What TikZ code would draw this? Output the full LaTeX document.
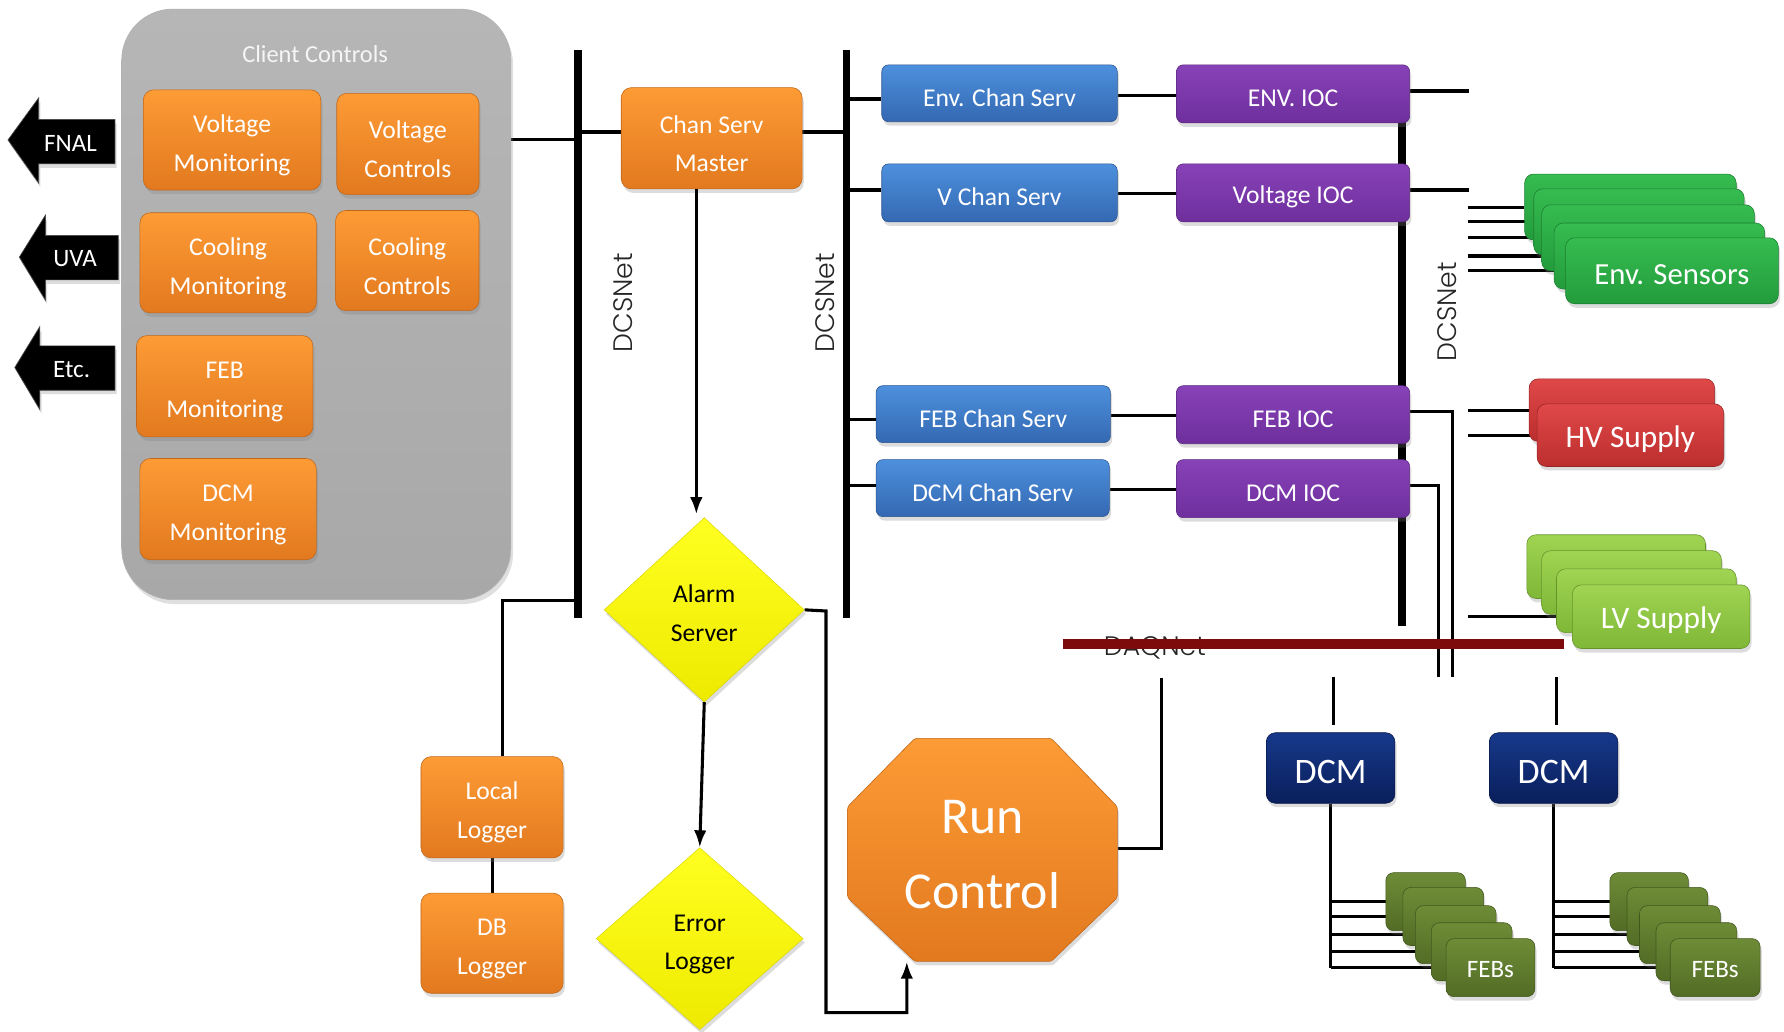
\documentclass[tikz,border=0pt]{standalone}
\usepackage{fontspec}
\setmainfont{Carlito}
\newfontfamily\gothic{Poppins Light}
\usetikzlibrary{shadows,arrows.meta,shapes.geometric,backgrounds}
\definecolor{orA}{HTML}{FD9B35}
\definecolor{orB}{HTML}{E2791F}
\definecolor{blA}{HTML}{4D90DD}
\definecolor{blB}{HTML}{3468B2}
\definecolor{puA}{HTML}{8742B7}
\definecolor{puB}{HTML}{6E2F9D}
\definecolor{gnA}{HTML}{36BC50}
\definecolor{gnB}{HTML}{239C3C}
\definecolor{rdA}{HTML}{E04848}
\definecolor{rdB}{HTML}{BC2E2E}
\definecolor{lgA}{HTML}{A0D452}
\definecolor{lgB}{HTML}{7FB737}
\definecolor{nvA}{HTML}{17388A}
\definecolor{nvB}{HTML}{0A1F5C}
\definecolor{olA}{HTML}{6E8C37}
\definecolor{olB}{HTML}{526C25}
\definecolor{ylA}{HTML}{FFFF20}
\definecolor{ylB}{HTML}{EEEA00}
\definecolor{grA}{HTML}{B6B6B6}
\definecolor{grB}{HTML}{A8A8A8}
\definecolor{daq}{HTML}{7E0B0B}
\newcommand\fsz[2]{\fontsize{#1}{#2}\selectfont}
% two-line text with a raised first line
\newcommand\twol[3][25pt]{\rule{0pt}{#1}#2\\#3}
\tikzset{
  tstrut/.style={execute at begin node={\rule{0pt}{#1}}},
  shad/.style={drop shadow={shadow xshift=1.5pt,shadow yshift=-3.5pt,opacity=0.28}},
  box/.style={rectangle, rounded corners=9pt, inner sep=0pt, align=center, text=white,
    font=\fsz{22.5}{34}, shad, line width=0.5pt},
  obox/.style={box, top color=orA, bottom color=orB, draw=orB!85!black},
  bbox/.style={box, rounded corners=6pt, top color=blA, bottom color=blB, draw=blB!80!black,
    minimum height=50pt, tstrut=23pt},
  pbox/.style={box, rounded corners=6pt, top color=puA, bottom color=puB, draw=puB!80!black,
    minimum width=205pt, minimum height=51pt, tstrut=22pt},
  gbox/.style={box, rounded corners=8pt, top color=gnA, bottom color=gnB, draw=gnB!80!black,
    minimum height=58pt, font=\fsz{27}{30}, tstrut=23.5pt},
  rbox/.style={box, rounded corners=8pt, top color=rdA, bottom color=rdB, draw=rdB!80!black,
    minimum height=55pt, minimum width=164pt, font=\fsz{27.5}{30}, tstrut=25.5pt},
  lbox/.style={box, rounded corners=8pt, top color=lgA, bottom color=lgB, draw=lgB!80!black,
    minimum height=56pt, minimum width=157pt, font=\fsz{27.5}{30}, tstrut=25.5pt},
  nbox/.style={box, rounded corners=8pt, top color=nvA, bottom color=nvB, draw=nvB!80!black,
    minimum width=113pt, minimum height=62pt, font=\fsz{31.5}{34}, tstrut=28pt},
  fbox/.style={box, rounded corners=7pt, top color=olA, bottom color=olB, draw=olB!80!black,
    minimum width=71pt, minimum height=51pt, font=\fsz{22}{24}, tstrut=18pt},
  ydia/.style={diamond, inner sep=0pt, align=center, top color=ylA, bottom color=ylB,
    draw=ylB!90!black, line width=0.4pt, font=\fsz{22.5}{34}, text=black, shad},
  bigarrow/.style={fill=black, draw=black!70, line width=0.6pt, shad},
  atext/.style={text=white, font=\fsz{22}{24}},
  conn/.style={line width=2.7pt},
  bus/.style={line width=7pt},
  tip/.style={-{Latex[length=15pt,width=11pt]}},
  netlbl/.style={font=\gothic\fsz{23.5}{24}, text=black!85},
}
\begin{document}
\begin{tikzpicture}[x=1pt,y=-1pt]
\useasboundingbox (0,0) rectangle (1568,907);

% ---------- client controls ----------
\node[rectangle, rounded corners=45pt, top color=grA, bottom color=grB, draw=black!30,
      line width=0.6pt, minimum width=342pt, minimum height=519pt, inner sep=0pt,
      drop shadow={shadow xshift=2pt,shadow yshift=-4pt,opacity=0.25}]
      (client) at (278,267.5) {};
\node[text=white!96!black, font=\fsz{21.5}{24}] (cctitle) at (277,47.5) {Client Controls};

\node[obox, minimum width=156pt, minimum height=88pt] (vm) at (204,123) {\twol{Voltage}{Monitoring}};
\node[obox, minimum width=125pt, minimum height=89pt] (vc) at (358.5,126.5) {\twol{Voltage}{Controls}};
\node[obox, minimum width=155pt, minimum height=88pt] (cm) at (200.5,231) {\twol{Cooling}{Monitoring}};
\node[obox, minimum width=126pt, minimum height=88pt] (cc) at (358,229) {\twol{Cooling}{Controls}};
\node[obox, minimum width=155pt, minimum height=89pt] (fm) at (197.5,339.5) {\twol{FEB}{Monitoring}};
\node[obox, minimum width=155pt, minimum height=89pt] (dm) at (200.5,447.5) {\twol{DCM}{Monitoring}};

% ---------- outgoing arrows ----------
\path[bigarrow] (101,105) -- (34,105) -- (34,86) -- (7,123) -- (34,161) -- (34,144) -- (101,144) -- cycle;
\node[atext] (fnal) at (62,126) {FNAL};
\path[bigarrow] (104,207) -- (40,207) -- (40,189) -- (17,226) -- (40,264) -- (40,246) -- (104,246) -- cycle;
\node[atext] (uva) at (66,227) {UVA};
\path[bigarrow] (101,304) -- (35,304) -- (35,287) -- (13,323) -- (35,360) -- (35,343) -- (101,343) -- cycle;
\node[atext] (etc) at (63,325) {Etc.};

% ---------- buses ----------
\coordinate (b1t) at (508,44);  \coordinate (b1b) at (508,543);
\coordinate (b2t) at (744,44);  \coordinate (b2b) at (744,543);
\coordinate (b3t) at (1232,107); \coordinate (b3b) at (1232,550);
\draw[bus] (b1t) -- (b1b);
\draw[bus] (b2t) -- (b2b);
\node[netlbl, rotate=90] (lbl1) at (548,266) {DCSNet};
\node[netlbl, rotate=90] (lbl2) at (725,266) {DCSNet};
\node[netlbl, rotate=90] (lbl3) at (1272,274) {DCSNet};

% ---------- chan serv master ----------
\node[obox, minimum width=159pt, minimum height=89pt] (csm) at (625.5,121.5) {\twol{Chan Serv}{Master}};

% ---------- chan servs ----------
\node[bbox, minimum width=207pt] (ecs) at (878.5,82) {Env. Chan Serv};
\node[bbox, minimum width=207pt, minimum height=51pt] (vcs) at (878.5,169.5) {V Chan Serv};
\node[bbox, minimum width=206pt] (fcs) at (873,364) {FEB Chan Serv};
\node[bbox, minimum width=205pt] (dcs) at (872.5,429) {DCM Chan Serv};

% ---------- IOCs ----------
\begin{scope}[on background layer]
\draw[bus] (b3t) -- (b3b);
\end{scope}
\node[pbox] (eioc) at (1136.5,82.5) {ENV. IOC};
\node[pbox] (vioc) at (1136.5,169.5) {Voltage IOC};
\node[pbox] (fioc) at (1136.5,364.5) {FEB IOC};
\node[pbox] (dioc) at (1136.5,429.5) {DCM IOC};

% ---------- env sensors ----------
\node[gbox, minimum width=186pt] (es1) at (1433,182) {};
\node[gbox, minimum width=185pt] (es2) at (1440.5,195) {};
\node[gbox, minimum width=187pt] (es3) at (1448.5,209) {};
\node[gbox, minimum width=185pt] (es4) at (1458.5,225) {};
\node[gbox, minimum width=187pt] (es5) at (1469.5,238) {Env. Sensors};

% ---------- HV / LV ----------
\node[rbox, minimum width=163pt] (hv1) at (1425.5,360.5) {};
\node[rbox] (hv2) at (1433,382.5) {HV Supply};
\node[lbox] (lv1) at (1420.5,498) {};
\node[lbox, minimum width=158pt] (lv2) at (1434,512) {};
\node[lbox, minimum width=158pt] (lv3) at (1447,528) {};
\node[lbox, minimum width=156pt] (lv4) at (1460,542) {LV Supply};

% ---------- alarm / error / loggers ----------
\node[ydia, minimum width=176pt, minimum height=162pt] (as) at (619,536) {\twol[22pt]{Alarm}{Server}};
\node[ydia, minimum width=182pt, minimum height=160pt] (el) at (615,825) {\twol[24.5pt]{Error}{Logger}};
\node[obox, minimum width=125pt, minimum height=89pt] (ll) at (432.5,709.5) {\twol{Local}{Logger}};
\node[obox, minimum width=125pt, minimum height=88pt] (dbl) at (432.5,829) {\twol{DB}{Logger}};

% ---------- run control ----------
\path[top color=orA, bottom color=orB, draw=orB!85!black, line width=0.5pt, rounded corners=2pt,
      drop shadow={shadow xshift=1.5pt,shadow yshift=-3.5pt,opacity=0.28}]
  (804,649) -- (924,649) -- (982,709) -- (982,789) -- (924,845) -- (804,845) -- (745,789) -- (745,709) -- cycle;
\node[rectangle, inner sep=0pt, minimum width=237pt, minimum height=196pt, align=center,
      text=white, font=\fsz{45.5}{66}] (rc) at (863.5,747) {\twol[37pt]{Run}{Control}};

% ---------- DCMs and FEBs ----------
\node[nbox] (dcm1) at (1169.5,675) {DCM};
\node[nbox] (dcm2) at (1365.5,675) {DCM};

\node[fbox, minimum width=70pt] (fa1) at (1253,792.5) {};
\node[fbox] (fa2) at (1268.5,805.5) {};
\node[fbox] (fa3) at (1279.5,821.5) {};
\node[fbox] (fa4) at (1293.5,836.5) {};
\node[fbox, minimum width=78pt] (fa5) at (1310,850.5) {FEBs};

\node[fbox, minimum width=69pt] (fb1) at (1449.5,792.5) {};
\node[fbox] (fb2) at (1465.5,805.5) {};
\node[fbox] (fb3) at (1476.5,821.5) {};
\node[fbox] (fb4) at (1491,836.5) {};
\node[fbox, minimum width=79pt] (fb5) at (1507.5,850.5) {FEBs};

% ---------- free-end coordinates ----------
\coordinate (eEnd) at (1291,80);
\coordinate (vEnd) at (1291,167);
\coordinate (sx) at (1290,0);
\coordinate (daqL) at (934,566);
\coordinate (daqR) at (1375,566);
\coordinate (daqRC) at (1021,596);
\coordinate (daqD1) at (1172,595);
\coordinate (daqD2) at (1368,595);
\coordinate (fiocD) at (1277,595);
\coordinate (diocD) at (1264,595);

% ---------- connectors (behind the boxes) ----------
\begin{scope}[on background layer]
  \draw[conn] (client.east |- 0,123) -- (b1t |- 0,123);
  \draw[conn] (b1t |- 0,116) -- (csm.west |- 0,116);
  \draw[conn] (csm.east |- 0,116) -- (b2t |- 0,116);
  \draw[conn] (b2t |- 0,87) -- (ecs.west |- 0,87);
  \draw[conn] (b2t |- 0,167) -- (vcs.west |- 0,167);
  \draw[conn] (b2t |- 0,369) -- (fcs.west |- 0,369);
  \draw[conn] (b2t |- 0,427) -- (dcs.west |- 0,427);
  \draw[conn] (ecs.east |- 0,84) -- (eioc.west |- 0,84);
  \draw[conn] (vcs.east |- 0,170) -- (vioc.west |- 0,170);
  \draw[conn] (fcs.east |- 0,365) -- (fioc.west |- 0,365);
  \draw[conn] (dcs.east |- 0,430) -- (dioc.west |- 0,430);
  \draw[conn] (eioc.east |- eEnd) -- (eEnd);
  \draw[conn] (vioc.east |- vEnd) -- (vEnd);
  \foreach \n in {es1,es2,es3,es4,es5} \draw[conn] (sx |- \n.west) -- (\n.west);
  \draw[conn] (sx |- hv1.west) -- (hv1.west);
  \draw[conn] (sx |- hv2.west) -- (hv2.west);
  \draw[conn] (sx |- lv4.west) -- (lv4.west);
  \draw[conn] (fioc.east |- 0,362) -- (fiocD |- 0,362) -- (fiocD);
  \draw[conn] (dioc.east |- 0,427) -- (diocD |- 0,427) -- (diocD);
  \node[netlbl] (daqlbl) at (1015,569) {DAQNet};
  \draw[line width=8pt, daq] (daqL) -- (daqR);
  \draw[conn] (daqD1) -- (1172,637);
  \draw[conn] (daqD2) -- (1368,637);
  \draw[conn] (rc.east |- 0,746) -- (daqRC |- 0,746) -- (daqRC);
  \draw[conn] (dcm1.south) -- (dcm1.south |- fa5.west);
  \foreach \n in {fa1,fa2,fa3,fa4,fa5} \draw[conn] (dcm1.south |- \n.west) -- (\n.west);
  \draw[conn] (dcm2.south) -- (dcm2.south |- fb5.west);
  \foreach \n in {fb1,fb2,fb3,fb4,fb5} \draw[conn] (dcm2.south |- \n.west) -- (\n.west);
  \draw[conn] (b1b |- 0,528) -- (442,528) -- (442,0 |- ll.north);
  \draw[conn] (ll) -- (dbl);
\end{scope}

% ---------- arrows ----------
\draw[conn, tip] (612,0 |- csm.south) -- (612,452);
\draw[conn, tip] (as.south) -- (el.north);
\draw[conn, tip] (as.east) -- (726,537) -- (726,890) -- (797,890) -- (797,0 |- rc.south);
\end{tikzpicture}
\end{document}
